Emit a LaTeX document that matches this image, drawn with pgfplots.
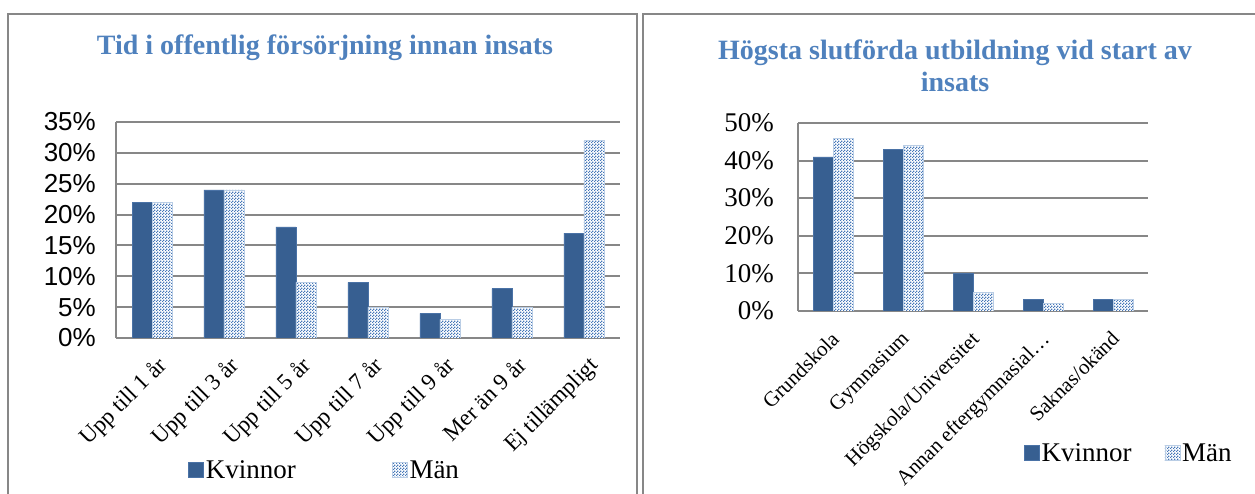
\documentclass[border=0pt]{standalone}
\usepackage{pgfplots}
\pgfplotsset{compat=1.18}
\usepackage{fontspec}
\setmainfont{Liberation Serif}
\newfontfamily\sansf{Liberation Sans}
\usetikzlibrary{patterns}
\definecolor{kv}{HTML}{375F91}
\definecolor{kvedge}{HTML}{4A72A6}
\definecolor{mn}{HTML}{4577B8}
\definecolor{mnedge}{HTML}{B9CDE5}
\definecolor{ttl}{HTML}{4F81BD}
\definecolor{grd}{HTML}{878787}
\pgfdeclarepatternformonly{checker}{\pgfpointorigin}{\pgfqpoint{3pt}{3pt}}{\pgfqpoint{3pt}{3pt}}{%
  \pgfpathrectangle{\pgfpointorigin}{\pgfqpoint{1.5pt}{1.5pt}}%
  \pgfpathrectangle{\pgfqpoint{1.5pt}{1.5pt}}{\pgfqpoint{1.5pt}{1.5pt}}%
  \pgfusepath{fill}}
\pgfplotsset{
  kvstyle/.style={fill=kv, draw=kvedge, line width=0.6pt},
  mnstyle/.style={fill=white, draw=mnedge, line width=0.6pt, postaction={pattern=checker, pattern color=mn}},
  base/.style={
    scale only axis,
    ybar=0pt, bar width=20pt,
    axis x line*=bottom, axis y line*=left,
    axis line style={grd, line width=2pt},
    ymajorgrids, grid style={grd, line width=2pt},
    major tick length=0pt,
    xtick=data,
    ymin=0,
    /pgf/number format/assume math mode=true,
    legend columns=2,
    legend style={draw=none, fill=none, font=\fontsize{27}{30}\selectfont, anchor=center},
    legend image code/.code={\draw[##1] (0pt,-7.5pt) rectangle (15pt,7.5pt);},
  },
}
\pgfplotstableread{
x kv mn
0 22 22
1 24 24
2 18 9
3 9 5
4 4 3
5 8 5
6 17 32
}\lefttab
\pgfplotstableread{
x kv mn
0 41 46
1 43 44
2 10 5
3 3 2
4 3 3
}\righttab
\begin{document}
\begin{tikzpicture}
\path[use as bounding box] (0pt,0pt) rectangle (1255pt,494pt);
\draw[grd, line width=1.5pt] (8pt,-10pt) -- (8pt,480pt) -- (637pt,480pt) -- (637pt,-10pt);
\draw[grd, line width=1.5pt] (643pt,-10pt) -- (643pt,480pt) -- (1270pt,480pt);
\node[text=ttl, font=\fontsize{28}{32}\selectfont\bfseries] at (325pt,446pt) {Tid i offentlig försörjning innan insats};
\node[text=ttl, font=\fontsize{28}{32}\selectfont\bfseries, align=center] at (955pt,428pt) {Högsta slutförda utbildning vid start av\\insats};
\begin{axis}[base, at={(116pt,156pt)}, anchor=south west, width=504pt, height=216pt,
  xmin=-0.5, xmax=6.5, ymax=35, ytick={0,5,...,35},
  yticklabel={\pgfmathprintnumber{\tick}\%},
  yticklabel style={font=\sansf\fontsize{26}{28}\selectfont, inner sep=0pt, xshift=-20pt},
  xticklabel style={yshift=-14pt, xshift=4pt, rotate=45, anchor=north east, inner sep=2pt, font=\fontsize{23}{26}\selectfont},
  xticklabels={Upp till 1 år, Upp till 3 år, Upp till 5 år, Upp till 7 år, Upp till 9 år, Mer än 9 år, Ej tillämpligt},
  legend style={at={(0.414,-0.611)}, /tikz/every even column/.append style={column sep=94pt}},
]
\addplot[kvstyle] table[x=x, y=kv] {\lefttab};
\addplot[mnstyle] table[x=x, y=mn] {\lefttab};
\legend{Kvinnor, Män}
\end{axis}
\begin{axis}[base, at={(798pt,183pt)}, anchor=south west, width=350pt, height=188pt,
  xmin=-0.5, xmax=4.5, ymax=50, ytick={0,10,...,50},
  yticklabel={\pgfmathprintnumber{\tick}\%},
  yticklabel style={font=\fontsize{27}{29}\selectfont, inner sep=0pt, xshift=-24pt},
  xticklabel style={yshift=-16pt, xshift=-3pt, rotate=45, anchor=north east, inner sep=2pt, font=\fontsize{21}{24}\selectfont},
  xticklabels={Grundskola, Gymnasium, Högskola/Universitet, Annan eftergymnasial…, Saknas/okänd},
  legend style={at={(0.945,-0.755)}, /tikz/every even column/.append style={column sep=31pt}},
]
\addplot[kvstyle] table[x=x, y=kv] {\righttab};
\addplot[mnstyle] table[x=x, y=mn] {\righttab};
\legend{Kvinnor, Män}
\end{axis}
\end{tikzpicture}
\end{document}
